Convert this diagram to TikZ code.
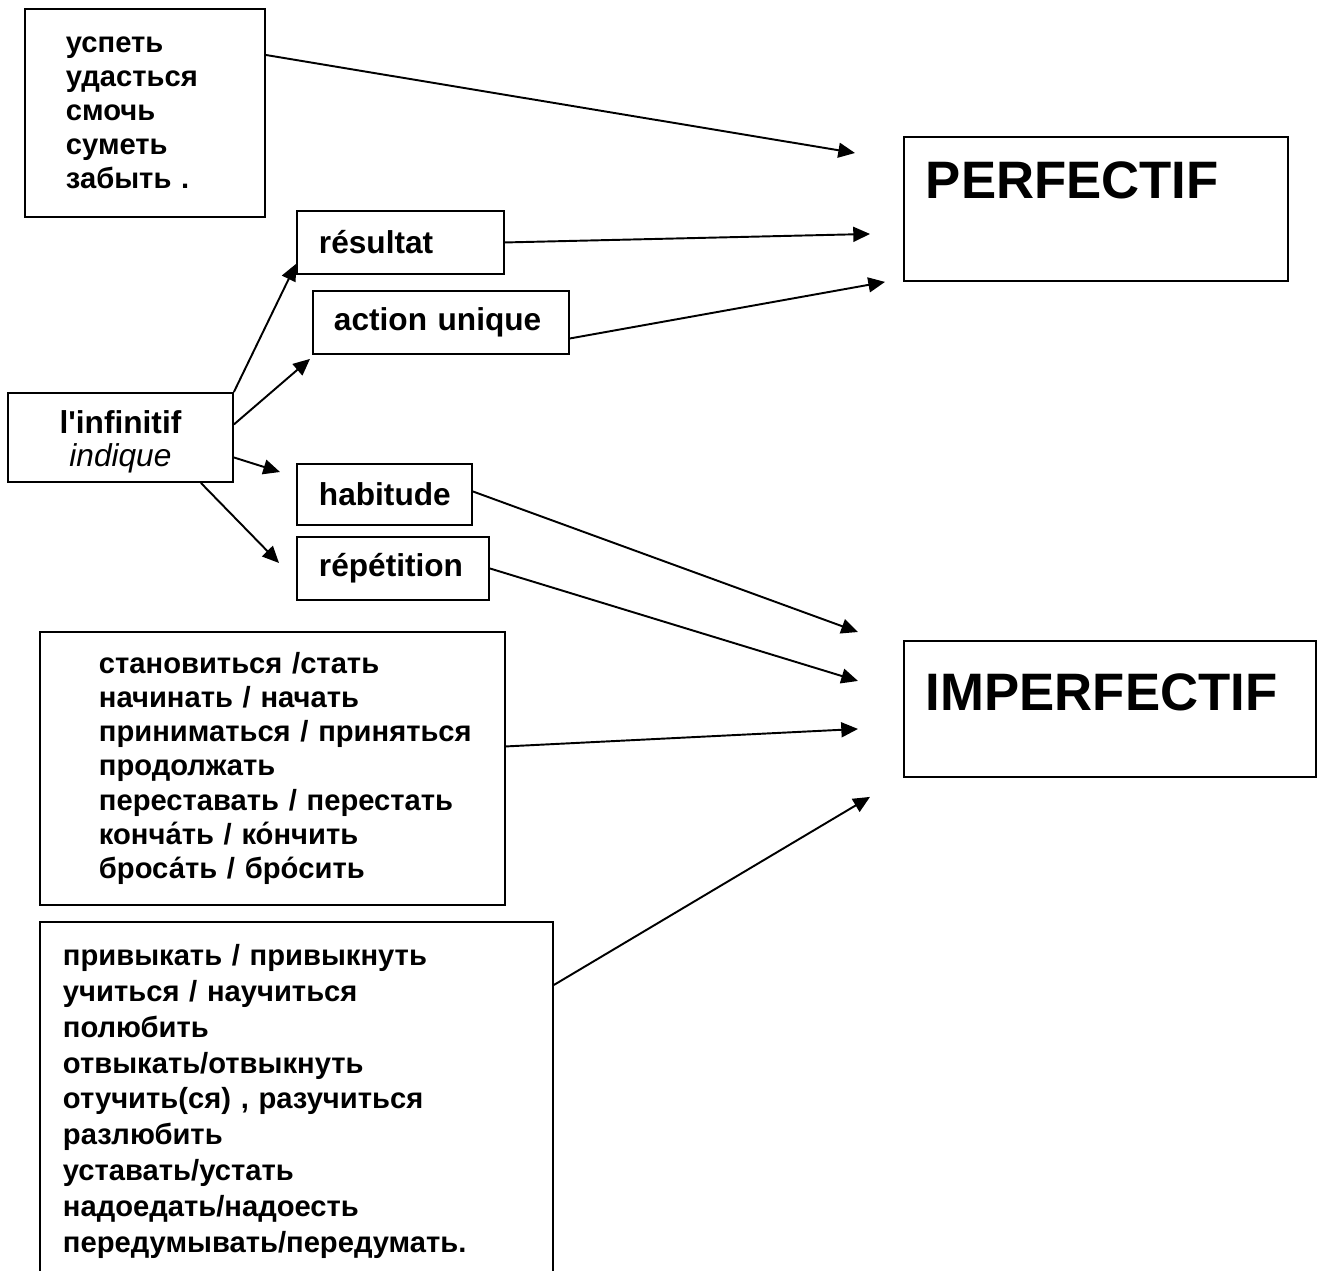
\documentclass[tikz,border=0pt]{standalone}
\usepackage{fontspec}
\setmainfont{Liberation Sans}[Ligatures=TeXOff]
\usetikzlibrary{arrows.meta}
\newcommand{\wordfont}{\fontsize{16.6}{19.4}\selectfont\bfseries}
\newcommand{\longfont}{\fontsize{16.6}{20.4}\selectfont\bfseries}
\newcommand{\labelfont}{\fontsize{18}{18.4}\selectfont\bfseries}
\newcommand{\titlefont}{\fontsize{30}{34}\selectfont\bfseries}

\begin{document}
\begin{tikzpicture}[x=0.02cm, y=-0.02cm, box/.style={draw, line width=1.1pt, align=left, anchor=north west, font=\wordfont, inner ysep=0pt}, lbl/.style={box, font=\labelfont}, title/.style={box, font=\titlefont}, indent/.style={execute at begin node={\leftskip=#1}}, arr/.style={-{Triangle[length=9.5pt, width=8.5pt]}, line width=1.1pt}]
\clip (0,0) rectangle (1323,1271);
\node[box, text width=3.16cm, inner xsep=0.82cm, minimum height=4.16cm] (modal) at (24,8) {успеть\\удасться\\смочь\\суметь\\забыть .};
\node[title, text width=6.8cm, inner xsep=0.44cm, text height=1.24cm, text depth=1.64cm] (perf) at (903,136) {PERFECTIF};
\node[lbl, text width=3.26cm, inner xsep=0.44cm, minimum height=1.26cm] (res) at (296,210) {résultat};
\node[lbl, text width=4.28cm, inner xsep=0.42cm, minimum height=1.26cm] (uniq) at (312,290) {action unique};
\node[lbl, align=center, text width=4.1cm, inner xsep=0.2cm, text height=0.82cm, text depth=0.96cm] (inf) at (7,392) {l'infinitif\\{\mdseries\itshape indique}};
\node[lbl, text width=2.62cm, inner xsep=0.44cm, minimum height=1.22cm] (hab) at (296,463) {habitude};
\node[lbl, text width=2.96cm, inner xsep=0.44cm, minimum height=1.26cm] (rep) at (296,536) {répétition};
\node[title, text width=7.36cm, inner xsep=0.44cm, text height=1.4cm, text depth=1.32cm] (imperf) at (903,640) {IMPERFECTIF};
\node[box, text width=8.9cm, inner xsep=0.2cm, indent=0.98cm, minimum height=5.46cm] (phase) at (39,631) {становиться /стать\\начинать / начать\\приниматься / приняться\\продолжать\\переставать / перестать\\конча́ть / ко́нчить\\броса́ть / бро́сить};
\node[box, font=\longfont, text width=9.34cm, inner xsep=0.46cm, minimum height=7.18cm] (habit) at (39,921) {привыкать / привыкнуть\\учиться / научиться\\полюбить\\отвыкать/отвыкнуть\\отучить(ся) , разучиться\\разлюбить\\уставать/устать\\надоедать/надоесть\\передумывать/передумать.};
\draw[arr] ([shift={(0,47)}]modal.north east) -- ([shift={(-48,17)}]perf.north west);
\draw[arr] (res.east) -- ([shift={(-33,25)}]perf.west);
\draw[arr] ([shift={(0,16)}]uniq.east) -- ([shift={(-18,0)}]perf.south west);
\draw[arr] (inf.north east) -- ([shift={(0,-11)}]res.south west);
\draw[arr] ([shift={(0,-13)}]inf.east) -- ([shift={(-2,4)}]uniq.south west);
\draw[arr] ([shift={(0,20)}]inf.east) -- ([shift={(-16,9)}]hab.north west);
\draw[arr] ([shift={(-33,0)}]inf.south east) -- ([shift={(-17,27)}]rep.north west);
\draw[arr] ([shift={(0,-3)}]hab.east) -- ([shift={(-45,-8)}]imperf.north west);
\draw[arr] (rep.east) -- ([shift={(-45,-28)}]imperf.west);
\draw[arr] ([shift={(0,-22)}]phase.east) -- ([shift={(-45,20)}]imperf.west);
\draw[arr] ([shift={(0,64)}]habit.north east) -- ([shift={(-33,19)}]imperf.south west);
\end{tikzpicture}
\end{document}
